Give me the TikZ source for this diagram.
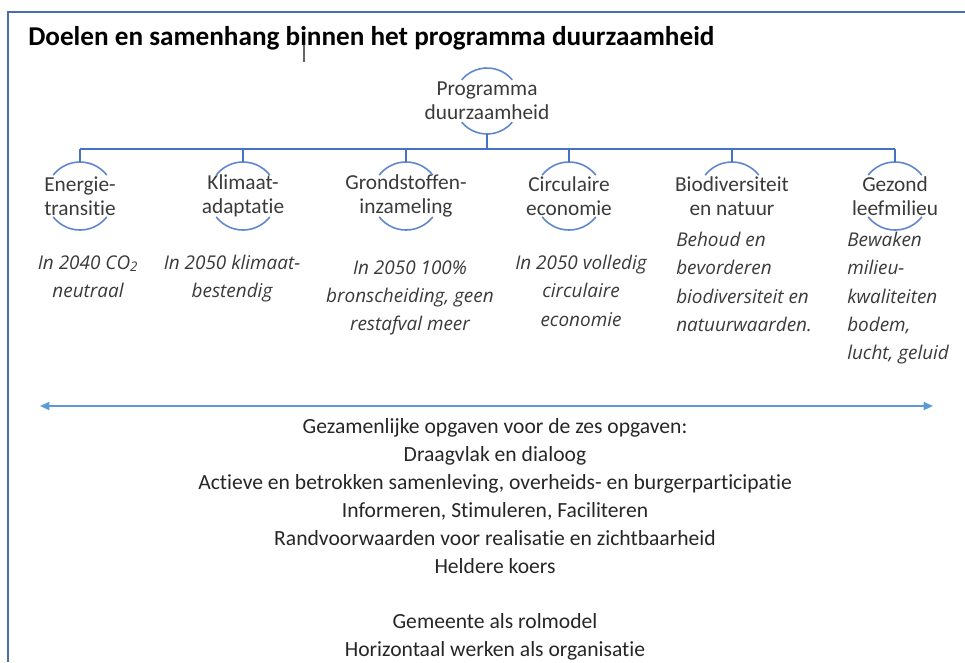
\documentclass[tikz,border=0pt]{standalone}
\usepackage{fontspec}
\setmainfont{Carlito}[Ligatures=NoCommon]
\newfontfamily\goalfont{Open Sans}
\usetikzlibrary{positioning,calc,arrows.meta}
\definecolor{frameblue}{HTML}{4A6EA9}
\definecolor{linkblue}{HTML}{4472C4}
\definecolor{arrowblue}{HTML}{5B9BD5}
\definecolor{txtgrey}{HTML}{3A3A3A}
\tikzset{
frameline/.style={draw=frameblue,line width=1.6pt},
ring/.style={draw=linkblue!85,line width=1.2pt},
branch/.style={draw=linkblue,line width=1.2pt},
headline/.style={font=\bfseries\fontsize{20.4}{24}\selectfont,inner sep=0pt,anchor=west},
topic/.style={font=\fontsize{16}{18}\selectfont,text=txtgrey,align=center,inner sep=0pt},
goal/.style={font=\goalfont\itshape\fontsize{14.2}{21.2}\selectfont,text=txtgrey,inner sep=0pt,anchor=north},
common/.style={font=\fontsize{16.2}{21}\selectfont,text=black!85,align=center,inner sep=0pt,anchor=north},
spanarrow/.style={{Triangle[length=7pt,width=6pt]}-{Triangle[length=7pt,width=6pt]},arrowblue,line width=1.5pt}
}

\begin{document}
\begin{tikzpicture}[x=0.75pt,y=0.75pt]
\useasboundingbox (0,0) rectangle (965,-662);
% frame and heading
\draw[frameline] (8,-662) -- (8,-12) -- (965,-12);
\node[headline] (title) at (28,-38) {Doelen en samenhang binnen het programma duurzaamheid};
\draw[black!60,line width=0.8pt] (304,-45) -- (304,-62);

% hierarchy
\node[topic] (prog) at (487,-101) {Programma\\duurzaamheid};
\foreach \nm/\cx/\txt in {ener/80/{Energie-\\transitie},klim/243/{Klimaat-\\adaptatie},
  grond/406/{Grondstoffen-\\inzameling},circ/569/{Circulaire\\economie},
  bio/732/{Biodiversiteit\\en natuur},gez/895/{Gezond\\leefmilieu}}
  \node[topic] (\nm) at (\cx,-196) {\txt};

\draw[ring] (prog.center) ++(40:33) arc[start angle=40,end angle=140,radius=33];
\draw[ring] (prog.center) ++(220:33) arc[start angle=220,end angle=320,radius=33];
\foreach \nm in {ener,klim,grond,circ,bio,gez}
  \draw[ring] (\nm.center) ++(38:34) arc[start angle=38,end angle=142,radius=34];
\foreach \nm in {ener,klim,grond,circ,gez}
  \draw[ring] (\nm.center) ++(218:34) arc[start angle=218,end angle=322,radius=34];

\coordinate (hub) at (487,-149);
\draw[branch] ($(prog.center)+(0,-33)$) -- (hub);
\draw[branch] (ener.center |- hub) -- (gez.center |- hub);
\foreach \nm in {ener,klim,grond,circ,bio,gez}
  \draw[branch] (\nm.center |- hub) -- ($(\nm.center)+(0,34)$);

% goals
\node[goal,align=center] (g-ener) at (88,-255) {In 2040 CO\textsubscript{2}\\neutraal};
\node[goal,align=center] (g-klim) at (232,-255) {In 2050 klimaat-\\bestendig};
\node[goal,align=center] (g-grond) at (410,-260) {In 2050 100\%\\bronscheiding, geen\\restafval meer};
\node[goal,align=center] (g-circ) at (581,-255) {In 2050 volledig\\circulaire\\economie};
\node[goal,align=left,anchor=north west] (g-bio) at (676,-232) {Behoud en\\bevorderen\\biodiversiteit en\\natuurwaarden.};
\node[goal,align=left,anchor=north west] (g-gez) at (847,-232) {Bewaken\\milieu-\\kwaliteiten\\bodem,\\lucht, geluid};

% shared tasks
\coordinate (left) at (40,-406);
\coordinate (right) at (933,-406);
\draw[spanarrow] (left) -- (right);
\node[common] (shared) at (495,-418) {Gezamenlijke opgaven voor de zes opgaven:\\
Draagvlak en dialoog\\
Actieve en betrokken samenleving, overheids- en burgerparticipatie\\
Informeren, Stimuleren, Faciliteren\\
Randvoorwaarden voor realisatie en zichtbaarheid\\
Heldere koers\\[20.3pt]
Gemeente als rolmodel\\
Horizontaal werken als organisatie};
\end{tikzpicture}
\end{document}
